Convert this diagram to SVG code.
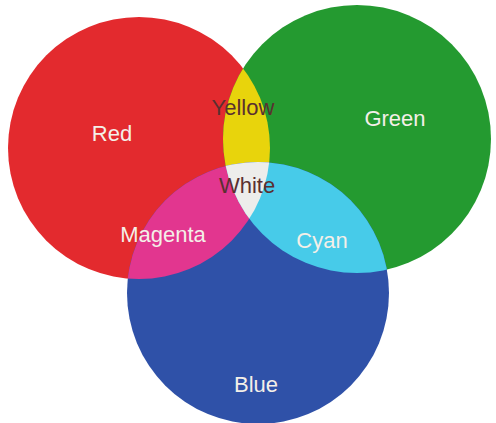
<svg xmlns="http://www.w3.org/2000/svg" width="496" height="423" viewBox="0 0 496 423">
<style>
.lbl{font-family:"Liberation Sans",Arial,sans-serif;font-size:22px;text-anchor:middle}
.light{fill:#f4efe8}
.dark{fill:#5a3030}
</style>
<defs>
<clipPath id="cR"><circle cx="139" cy="148" r="131"/></clipPath>
<clipPath id="cG"><circle cx="357" cy="139" r="134"/></clipPath>
</defs>
<rect width="496" height="423" fill="#ffffff"/>
<g id="red"><circle cx="139" cy="148" r="131" fill="#e32a2e"/></g>
<g id="green"><circle cx="357" cy="139" r="134" fill="#249a30"/></g>
<g id="blue"><circle cx="258" cy="293" r="131" fill="#2f51a8"/></g>
<g id="yellow"><circle cx="357" cy="139" r="134" fill="#e8d40c" clip-path="url(#cR)"/></g>
<g id="magenta"><circle cx="258" cy="293" r="131" fill="#e2368f" clip-path="url(#cR)"/></g>
<g id="cyan"><circle cx="258" cy="293" r="131" fill="#47cbe9" clip-path="url(#cG)"/></g>
<g id="white"><g clip-path="url(#cR)"><circle cx="258" cy="293" r="131" fill="#ededeb" clip-path="url(#cG)"/></g></g>
<g id="labels">
<text class="lbl light" x="112" y="141">Red</text>
<text class="lbl light" x="395" y="126">Green</text>
<text class="lbl dark" x="243" y="115">Yellow</text>
<text class="lbl dark" x="247" y="193">White</text>
<text class="lbl light" x="163" y="242">Magenta</text>
<text class="lbl light" x="322" y="248">Cyan</text>
<text class="lbl light" x="256" y="392">Blue</text>
</g>
</svg>
